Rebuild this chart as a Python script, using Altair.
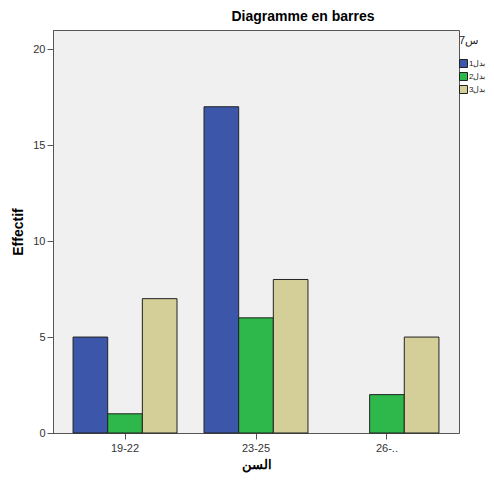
import altair as alt
import pandas as pd

ages = ["19-22", "19-22", "19-22", "23-25", "23-25", "23-25", "26-..", "26-.."]
groups = ["بدل1", "بدل2", "بدل3", "بدل1", "بدل2", "بدل3", "بدل2", "بدل3"]
counts = [5, 1, 7, 17, 6, 8, 2, 5]

age_order = ["19-22", "23-25", "26-.."]
group_order = ["بدل1", "بدل2", "بدل3"]
colors = ["#3c56a9", "#2eb84b", "#d4cf98"]

df = pd.DataFrame({"age": ages, "grp": groups, "n": counts})

FONT = "Liberation Sans"

chart = alt.Chart(df).mark_bar(stroke="#222222", strokeWidth=1).encode(
    x=alt.X("age:N", sort=age_order,
            scale=alt.Scale(paddingInner=0, paddingOuter=0.05),
            axis=alt.Axis(title="السن", labelAngle=0, tickSize=6, labelPadding=3,
                          titlePadding=5, labelFontSize=11, titleFontSize=13,
                          labelColor="#333333", titleColor="#000000",
                          domainColor="#555555", tickColor="#555555")),
    xOffset=alt.XOffset("grp:N", sort=group_order,
                        scale=alt.Scale(paddingInner=0, paddingOuter=0.39)),
    y=alt.Y("n:Q", scale=alt.Scale(domain=[0, 21], nice=False),
            axis=alt.Axis(title="Effectif", values=[0, 5, 10, 15, 20], grid=False,
                          tickSize=6, labelPadding=2, titlePadding=7,
                          labelFontSize=11, titleFontSize=14,
                          labelColor="#333333", titleColor="#000000",
                          domainColor="#555555", tickColor="#555555")),
    color=alt.Color("grp:N", sort=group_order,
                    scale=alt.Scale(domain=group_order, range=colors),
                    legend=alt.Legend(title="س7", orient="none", legendX=406, legendY=5,
                                      symbolType="square", symbolSize=64,
                                      symbolStrokeColor="#222222", symbolStrokeWidth=1,
                                      symbolOpacity=1, labelFontSize=8, titleFontSize=11,
                                      titleFontWeight="normal", rowPadding=0,
                                      titlePadding=13, padding=0, labelOffset=1,
                                      titleColor="#222222", labelColor="#222222")),
).properties(
    width=406,
    height=403,
    title=alt.TitleParams("Diagramme en barres", fontSize=14, fontWeight="bold",
                          anchor="middle", dx=47, offset=6, color="#000000"),
    autosize=alt.AutoSizeParams(type="none"),
    padding={"left": 45, "top": 22, "right": 27, "bottom": 40},
).configure(
    font=FONT
).configure_view(
    fill="#f0f0f0", stroke="#555555", strokeWidth=1
)

chart.save("out.html", embed_options={"renderer": "svg", "actions": False})
